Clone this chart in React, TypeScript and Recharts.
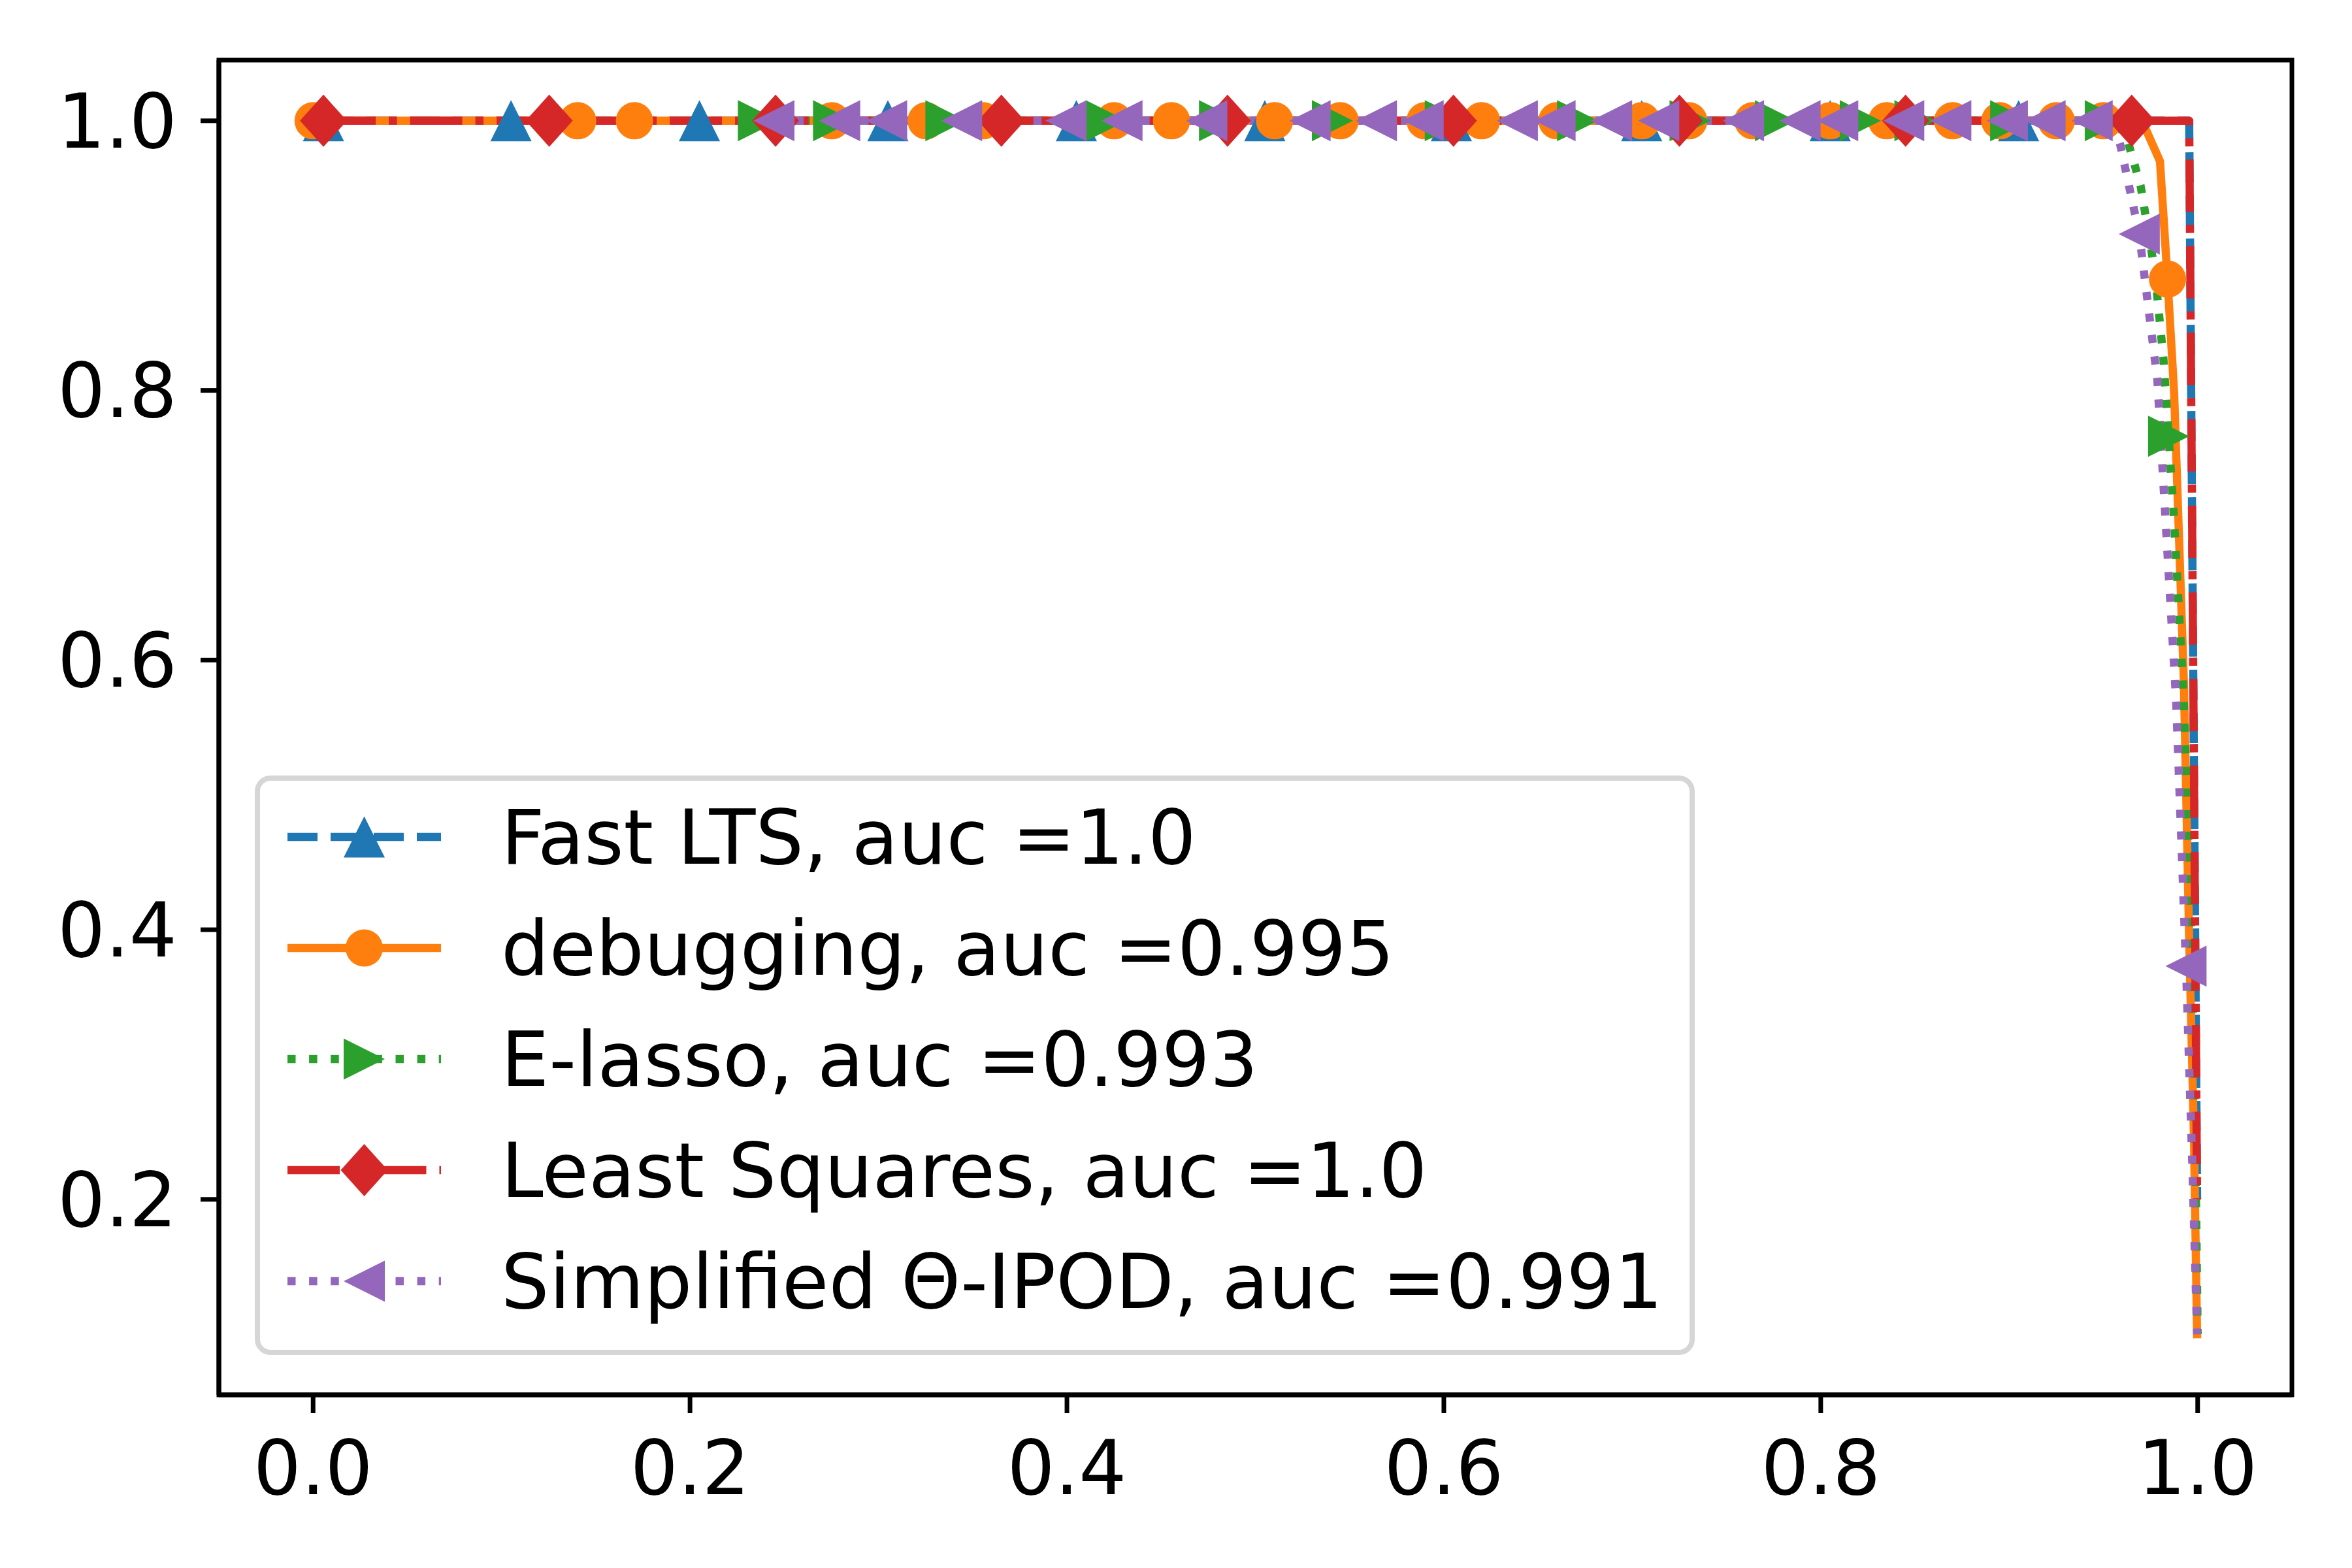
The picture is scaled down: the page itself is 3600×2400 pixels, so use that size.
import { Legend, Line, LineChart, ReferenceArea, XAxis, YAxis } from "recharts";

const BLUE = "#1f77b4";
const ORANGE = "#ff7f0e";
const GREEN = "#2ca02c";
const RED = "#d62728";
const PURPLE = "#9467bd";

const FONT = "'DejaVu Sans', sans-serif";

const xDomain = [-0.05, 1.05];
const yDomain = [0.055, 1.045];
const xTicks = [0, 0.2, 0.4, 0.6, 0.8, 1.0];
const yTicks = [0.2, 0.4, 0.6, 0.8, 1.0];

// m = 1 marks the points that carry a marker
const fastLts = [
  { x: 0.0055, y: 1.0, m: 1 },
  { x: 0.105, y: 1.0, m: 1 },
  { x: 0.205, y: 1.0, m: 1 },
  { x: 0.305, y: 1.0, m: 1 },
  { x: 0.405, y: 1.0, m: 1 },
  { x: 0.505, y: 1.0, m: 1 },
  { x: 0.604, y: 1.0, m: 1 },
  { x: 0.705, y: 1.0, m: 1 },
  { x: 0.805, y: 1.0, m: 1 },
  { x: 0.905, y: 1.0, m: 1 },
  { x: 0.9955, y: 1.0, m: 0 },
  { x: 0.9997, y: 0.2, m: 0 },
];

const debugging = [
  { x: 0.0, y: 1.0, m: 1 },
  { x: 0.1404, y: 1.0, m: 1 },
  { x: 0.1705, y: 1.0, m: 1 },
  { x: 0.2752, y: 1.0, m: 1 },
  { x: 0.3253, y: 1.0, m: 1 },
  { x: 0.3555, y: 1.0, m: 1 },
  { x: 0.425, y: 1.0, m: 1 },
  { x: 0.4555, y: 1.0, m: 1 },
  { x: 0.5102, y: 1.0, m: 1 },
  { x: 0.545, y: 1.0, m: 1 },
  { x: 0.59, y: 1.0, m: 1 },
  { x: 0.62, y: 1.0, m: 1 },
  { x: 0.66, y: 1.0, m: 1 },
  { x: 0.705, y: 1.0, m: 1 },
  { x: 0.73, y: 1.0, m: 1 },
  { x: 0.764, y: 1.0, m: 1 },
  { x: 0.805, y: 1.0, m: 1 },
  { x: 0.835, y: 1.0, m: 1 },
  { x: 0.87, y: 1.0, m: 1 },
  { x: 0.895, y: 1.0, m: 1 },
  { x: 0.925, y: 1.0, m: 1 },
  { x: 0.95, y: 1.0, m: 1 },
  { x: 0.9705, y: 1.0, m: 0 },
  { x: 0.98, y: 0.97, m: 0 },
  { x: 0.984, y: 0.8826, m: 1 },
  { x: 0.9875, y: 0.7986, m: 0 },
  { x: 0.9927, y: 0.583, m: 0 },
  { x: 0.9955, y: 0.392, m: 0 },
  { x: 0.998, y: 0.248, m: 0 },
  { x: 0.9997, y: 0.1, m: 0 },
];

const eLasso = [
  { x: 0.2363, y: 1.0, m: 1 },
  { x: 0.2762, y: 1.0, m: 1 },
  { x: 0.3358, y: 1.0, m: 1 },
  { x: 0.4209, y: 1.0, m: 1 },
  { x: 0.481, y: 1.0, m: 1 },
  { x: 0.5409, y: 1.0, m: 1 },
  { x: 0.6008, y: 1.0, m: 1 },
  { x: 0.671, y: 1.0, m: 1 },
  { x: 0.7307, y: 1.0, m: 1 },
  { x: 0.776, y: 1.0, m: 1 },
  { x: 0.821, y: 1.0, m: 1 },
  { x: 0.85, y: 1.0, m: 1 },
  { x: 0.9008, y: 1.0, m: 1 },
  { x: 0.951, y: 1.0, m: 1 },
  { x: 0.957, y: 1.0, m: 0 },
  { x: 0.9633, y: 0.983, m: 0 },
  { x: 0.9697, y: 0.952, m: 0 },
  { x: 0.9772, y: 0.889, m: 0 },
  { x: 0.9818, y: 0.824, m: 0 },
  { x: 0.9846, y: 0.766, m: 1 },
  { x: 0.9875, y: 0.703, m: 0 },
  { x: 0.9927, y: 0.569, m: 0 },
  { x: 0.9962, y: 0.415, m: 0 },
  { x: 0.9985, y: 0.27, m: 0 },
  { x: 1.0, y: 0.1, m: 0 },
];

const leastSquares = [
  { x: 0.0055, y: 1.0, m: 1 },
  { x: 0.1253, y: 1.0, m: 1 },
  { x: 0.2454, y: 1.0, m: 1 },
  { x: 0.3652, y: 1.0, m: 1 },
  { x: 0.4852, y: 1.0, m: 1 },
  { x: 0.6051, y: 1.0, m: 1 },
  { x: 0.725, y: 1.0, m: 1 },
  { x: 0.845, y: 1.0, m: 1 },
  { x: 0.965, y: 1.0, m: 1 },
  { x: 0.9955, y: 1.0, m: 0 },
  { x: 0.9997, y: 0.2, m: 0 },
];

const thetaIpod = [
  { x: 0.2445, y: 1.0, m: 1 },
  { x: 0.2794, y: 1.0, m: 1 },
  { x: 0.3043, y: 1.0, m: 1 },
  { x: 0.3441, y: 1.0, m: 1 },
  { x: 0.3995, y: 1.0, m: 1 },
  { x: 0.4292, y: 1.0, m: 1 },
  { x: 0.4742, y: 1.0, m: 1 },
  { x: 0.529, y: 1.0, m: 1 },
  { x: 0.5642, y: 1.0, m: 1 },
  { x: 0.589, y: 1.0, m: 1 },
  { x: 0.639, y: 1.0, m: 1 },
  { x: 0.659, y: 1.0, m: 1 },
  { x: 0.689, y: 1.0, m: 1 },
  { x: 0.714, y: 1.0, m: 1 },
  { x: 0.759, y: 1.0, m: 1 },
  { x: 0.789, y: 1.0, m: 1 },
  { x: 0.809, y: 1.0, m: 1 },
  { x: 0.844, y: 1.0, m: 1 },
  { x: 0.869, y: 1.0, m: 1 },
  { x: 0.899, y: 1.0, m: 1 },
  { x: 0.919, y: 1.0, m: 1 },
  { x: 0.944, y: 1.0, m: 1 },
  { x: 0.955, y: 1.0, m: 0 },
  { x: 0.9588, y: 0.983, m: 0 },
  { x: 0.969, y: 0.916, m: 1 },
  { x: 0.9786, y: 0.808, m: 0 },
  { x: 0.9886, y: 0.569, m: 0 },
  { x: 0.9938, y: 0.373, m: 1 },
  { x: 0.9972, y: 0.224, m: 0 },
  { x: 0.9997, y: 0.1, m: 0 },
];

type Shape = "up" | "circle" | "right" | "diamond" | "left";

const series = [
  { key: "lts", name: "Fast LTS, auc =1.0", data: fastLts, color: BLUE, dash: "46 20", shape: "up" as Shape },
  { key: "dbg", name: "debugging, auc =0.995", data: debugging, color: ORANGE, dash: undefined, shape: "circle" as Shape },
  { key: "elasso", name: "E-lasso, auc =0.993", data: eLasso, color: GREEN, dash: "12.5 20.6", shape: "right" as Shape },
  { key: "ls", name: "Least Squares, auc =1.0", data: leastSquares, color: RED, dash: "80 20 12.5 20", shape: "diamond" as Shape },
  { key: "ipod", name: "Simplified Θ-IPOD, auc =0.991", data: thetaIpod, color: PURPLE, dash: "12.5 20.6", shape: "left" as Shape },
];

function Marker({ shape, cx, cy, color }: { shape: Shape; cx: number; cy: number; color: string }) {
  const t = 31.5;
  switch (shape) {
    case "circle":
      return <circle cx={cx} cy={cy} r={28.5} fill={color} />;
    case "up":
      return <polygon points={`${cx},${cy - t} ${cx + t},${cy + t} ${cx - t},${cy + t}`} fill={color} />;
    case "right":
      return <polygon points={`${cx + t},${cy} ${cx - t},${cy - t} ${cx - t},${cy + t}`} fill={color} />;
    case "left":
      return <polygon points={`${cx - t},${cy} ${cx + t},${cy - t} ${cx + t},${cy + t}`} fill={color} />;
    default:
      return (
        <polygon
          points={`${cx},${cy - 40} ${cx + 36},${cy} ${cx},${cy + 40} ${cx - 36},${cy}`}
          fill={color}
        />
      );
  }
}

function makeDot(shape: Shape, color: string) {
  return (props: any) => {
    const { cx, cy, payload, index } = props;
    if (!payload?.m || cx == null || cy == null) return <g key={`e-${index}`} />;
    return (
      <g key={`d-${index}`}>
        <Marker shape={shape} cx={cx} cy={cy} color={color} />
      </g>
    );
  };
}

function LegendBox() {
  return (
    <div
      style={{
        boxSizing: "border-box",
        width: 2204,
        height: 887,
        border: "8px solid #d6d6d6",
        borderRadius: 24,
        background: "rgba(255,255,255,0.8)",
        paddingTop: 1,
        paddingLeft: 42,
        fontFamily: FONT,
        fontSize: 116,
        color: "#000",
      }}
    >
      {series.map((s) => (
        <div key={s.key} style={{ height: 170, display: "flex", alignItems: "center" }}>
          <svg width={235} height={100} style={{ display: "block", flex: "none" }}>
            <line
              x1={0}
              y1={50}
              x2={235}
              y2={50}
              stroke={s.color}
              strokeWidth={12.5}
              strokeDasharray={s.dash}
            />
            <Marker shape={s.shape} cx={117.5} cy={50} color={s.color} />
          </svg>
          <span style={{ marginLeft: 92, whiteSpace: "nowrap" }}>{s.name}</span>
        </div>
      ))}
    </div>
  );
}

const tickStyle = { fontSize: 115, fill: "#000", fontFamily: FONT };
const axisLine = { stroke: "#000", strokeWidth: 7 };
const tickLine = { stroke: "#000", strokeWidth: 7 };

export default function App() {
  return (
    <div style={{ position: "absolute", left: 0, top: 0, width: 3600, height: 2400, background: "#fff" }}>
      <LineChart width={3600} height={2400} margin={{ top: 92, right: 92, bottom: 0, left: 0 }}>
        <XAxis
          dataKey="x"
          type="number"
          domain={xDomain}
          ticks={xTicks}
          allowDataOverflow
          height={265}
          tickSize={28}
          tickMargin={42}
          tick={tickStyle}
          tickLine={tickLine}
          axisLine={axisLine}
          tickFormatter={(v: number) => v.toFixed(1)}
        />
        <YAxis
          type="number"
          domain={yDomain}
          ticks={yTicks}
          allowDataOverflow
          width={335}
          tickSize={28}
          tickMargin={36}
          tick={tickStyle}
          tickLine={tickLine}
          axisLine={axisLine}
          tickFormatter={(v: number) => v.toFixed(1)}
        />
        {/* axes frame (top and right spines) */}
        <ReferenceArea
          x1={xDomain[0]}
          x2={xDomain[1]}
          y1={yDomain[0]}
          y2={yDomain[1]}
          fill="none"
          stroke="#000"
          strokeWidth={7}
          ifOverflow="visible"
        />
        {series.map((s) => (
          <Line
            key={s.key}
            name={s.name}
            data={s.data}
            dataKey="y"
            type="linear"
            stroke={s.color}
            strokeWidth={12.5}
            strokeDasharray={s.dash}
            strokeLinejoin="round"
            strokeLinecap={s.dash ? "butt" : "square"}
            dot={makeDot(s.shape, s.color)}
            activeDot={false}
            isAnimationActive={false}
          />
        ))}
        <Legend
          layout="vertical"
          align="center"
          verticalAlign="middle"
          content={() => <LegendBox />}
          wrapperStyle={{ left: 390, top: 1187, width: 2204, height: 887 }}
        />
      </LineChart>
    </div>
  );
}
